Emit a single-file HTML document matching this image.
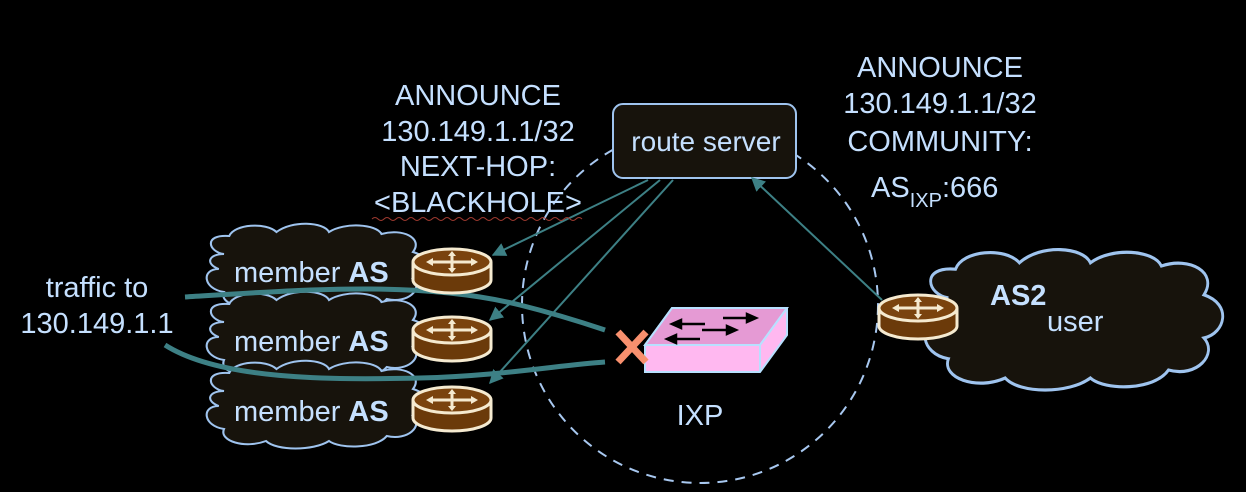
<!DOCTYPE html>
<html><head><style>
body{margin:0;background:#000;width:1246px;height:492px;overflow:hidden}
svg{display:block}
text{font-family:"Liberation Sans",sans-serif;fill:#c5e0ff}
</style></head><body>
<svg width="1246" height="492" viewBox="0 0 1246 492">
<defs>
<marker id="b" viewBox="0 0 10 10" refX="9" refY="5" markerWidth="14" markerHeight="14" orient="auto" markerUnits="userSpaceOnUse"><path d="M0,0 L10,5 L0,10 z" fill="#3d8085"/></marker>
<g id="cloud"><path d="M20,30 C5,28 0,10 25,12 C30,0 60,-2 70,8 C85,-4 115,-2 120,8 C135,-2 165,0 170,10 C190,4 210,14 200,28 C220,34 215,52 200,55 C210,65 195,80 175,75 C165,88 130,88 120,80 C105,90 70,90 60,80 C40,88 15,80 20,68 C0,65 -2,45 15,45 C2,40 5,30 20,30 z" fill="#17130c" stroke="#9fc4ef" stroke-width="2"/></g>
<g id="router">
<path d="M-39,0 L-39,18 A39,13 0 0 0 39,18 L39,0" fill="#6b3a0a" stroke="#f5ead0" stroke-width="3"/>
<ellipse cx="0" cy="0" rx="39" ry="13" fill="#7a430e" stroke="#f5ead0" stroke-width="3"/>
<path d="M-22,0 H22 M0,-9 V9" stroke="#f5ead0" stroke-width="3"/>
<path d="M-26,0 l7,-4 v8z M26,0 l-7,-4 v8z M0,-11 l-4,5 h8z M0,11 l-4,-5 h8z" fill="#f5ead0"/>
</g>
</defs>

<circle cx="700" cy="305" r="178" fill="none" stroke="#a8c8f0" stroke-width="2" stroke-dasharray="10,8"/>

<use href="#cloud" transform="translate(203,224) scale(1.05,1)"/>
<use href="#cloud" transform="translate(203,292) scale(1.05,1)"/>
<use href="#cloud" transform="translate(203,361) scale(1.05,1)"/>
<use href="#cloud" transform="translate(920,250) scale(1.42,1.6)"/>

<text x="234" y="282" font-size="29">member <tspan font-weight="bold">AS</tspan></text>
<text x="234" y="351" font-size="29">member <tspan font-weight="bold">AS</tspan></text>
<text x="234" y="421" font-size="29">member <tspan font-weight="bold">AS</tspan></text>
<text x="990" y="305" font-size="29" font-weight="bold">AS2</text>
<text x="1047" y="331" font-size="29">user</text>

<path d="M185,297 C300,290 420,280 520,305 C560,315 590,325 605,330" fill="none" stroke="#3d8085" stroke-width="5"/>
<path d="M165,345 C220,380 330,380 420,378 C500,376 560,365 605,362" fill="none" stroke="#3d8085" stroke-width="5"/>

<path d="M645,345 L672,308 L787,308 L787,335 L760,372 L645,372 z" fill="#ffb8f0" stroke="#b8e0ff" stroke-width="2"/>
<path d="M645,345 L672,308 L787,308 L760,345 z" fill="#e59ad4" stroke="#b8e0ff" stroke-width="2"/>
<path d="M760,345 L760,372 M760,345 L787,308" stroke="#b8e0ff" stroke-width="2"/>
<g stroke="#000" stroke-width="2.5" fill="#000">
<path d="M680,324 H705"/><path d="M672,324 l9,-4 v8z"/>
<path d="M702,330 H728"/><path d="M736,330 l-9,-4 v8z"/>
<path d="M723,318 H748"/><path d="M756,318 l-9,-4 v8z"/>
<path d="M675,339 H700"/><path d="M667,339 l9,-4 v8z"/>
</g>
<path d="M618,332 L646,362 M646,332 L618,362" stroke="#f8906e" stroke-width="7"/>

<text x="700" y="425" font-size="29" text-anchor="middle">IXP</text>

<rect x="613" y="104" width="183" height="74" rx="10" fill="#17130c" stroke="#9fc4ef" stroke-width="2"/>
<text x="706" y="151" font-size="28" text-anchor="middle">route server</text>

<g stroke="#3d8085" stroke-width="2" fill="none">
<path d="M648,180 L493,255" marker-end="url(#b)"/>
<path d="M660,180 L490,320" marker-end="url(#b)"/>
<path d="M673,180 L490,383" marker-end="url(#b)"/>
<path d="M882,300 L752,178" marker-end="url(#b)"/>
</g>

<use href="#router" transform="translate(452,262)"/>
<use href="#router" transform="translate(452,330)"/>
<use href="#router" transform="translate(452,400)"/>
<use href="#router" transform="translate(918,308)"/>

<g font-size="29" text-anchor="middle">
<text x="478" y="105">ANNOUNCE</text>
<text x="478" y="141">130.149.1.1/32</text>
<text x="478" y="176">NEXT-HOP:</text>
<text x="478" y="212">&lt;BLACKHOLE&gt;</text>
<text x="940" y="77">ANNOUNCE</text>
<text x="940" y="113">130.149.1.1/32</text>
<text x="940" y="151">COMMUNITY:</text>
<text x="97" y="297">traffic to</text>
<text x="97" y="333">130.149.1.1</text>
</g>
<path d="M372,219 q3,-3 6,0 t6,0 t6,0 t6,0 t6,0 t6,0 t6,0 t6,0 t6,0 t6,0 t6,0 t6,0 t6,0 t6,0 t6,0 t6,0 t6,0 t6,0 t6,0 t6,0 t6,0 t6,0 t6,0 t6,0 t6,0 t6,0 t6,0 t6,0 t6,0 t6,0 t6,0 t6,0 t6,0 t6,0 t6,0" fill="none" stroke="#a03a30" stroke-width="1"/>
<text x="871" y="197" font-size="29">AS<tspan font-size="20" dy="10">IXP</tspan><tspan dy="-10">:666</tspan></text>
</svg>
</body></html>
